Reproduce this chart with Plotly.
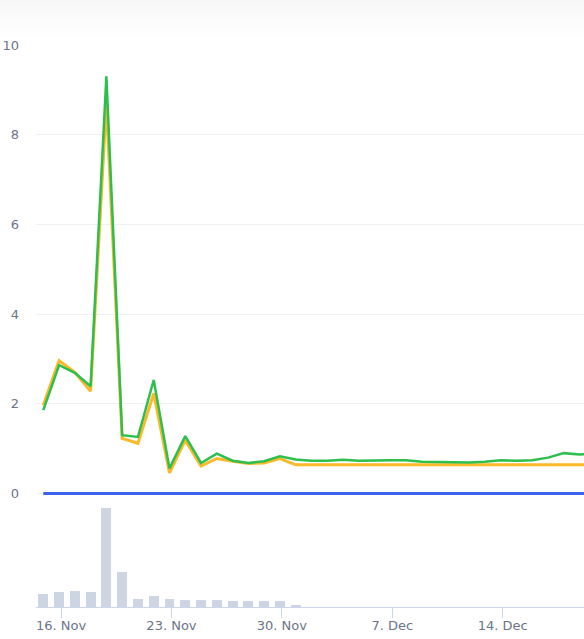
import pandas as pd
import plotly.graph_objects as go

dates = pd.date_range('2023-11-14 21:00', periods=36, freq='D')

green_vals = [1.86, 2.86, 2.69, 2.39, 9.30, 1.30, 1.26, 2.53, 0.56, 1.28,
              0.68, 0.89, 0.73, 0.68, 0.72, 0.83, 0.76, 0.73, 0.73, 0.75,
              0.73, 0.74, 0.74, 0.74, 0.71, 0.70, 0.70, 0.69, 0.71, 0.74,
              0.73, 0.74, 0.80, 0.90, 0.87, 0.88]

orange_vals = [1.97, 2.96, 2.70, 2.28, 8.72, 1.23, 1.12, 2.23, 0.46, 1.19,
               0.61, 0.78, 0.72, 0.67, 0.68, 0.78, 0.64, 0.64, 0.64, 0.64,
               0.64, 0.64, 0.64, 0.64, 0.64, 0.64, 0.64, 0.64, 0.64, 0.64,
               0.64, 0.64, 0.64, 0.64, 0.64, 0.64]

blue_vals = [0.0] * 36

volume = [134, 147, 160, 147, 994, 347, 84, 107, 84, 67,
          67, 67, 57, 57, 57, 57, 17, 0, 0, 0,
          0, 0, 0, 0, 0, 0, 0, 0, 0, 0,
          0, 0, 0, 0, 0, 0]

x_start = '2023-11-14 09:55'
x_end = '2023-12-19 03:40'

font = dict(family='DejaVu Sans', size=13, color='#6b7488')

fig = go.Figure()

# Volume bars in the lower pane
fig.add_trace(go.Bar(x=dates, y=volume, yaxis='y2', marker_color='#ced5e2',
    marker_line_width=0, width=0.63 * 86400000, hoverinfo='skip'))

# Price lines
fig.add_trace(go.Scatter(x=dates, y=blue_vals, mode='lines',
    line=dict(color='#3d63ee', width=3), hoverinfo='skip'))
fig.add_trace(go.Scatter(x=dates, y=orange_vals, mode='lines',
    line=dict(color='#fbb829', width=3), hoverinfo='skip'))
fig.add_trace(go.Scatter(x=dates, y=green_vals, mode='lines',
    line=dict(color='#2dbf4e', width=2.5), hoverinfo='skip'))

# faint grey gradient along the top of the page
for depth in [4, 8, 12, 17, 22, 28, 34, 40]:
    fig.add_shape(type='rect', xref='paper', yref='paper',
        x0=-0.08, x1=1.02, y0=1 + (45 - depth) / 562, y1=1 + 45 / 562,
        fillcolor='#000000', opacity=0.005, line_width=0, layer='below')

fig.update_layout(
    width=584, height=639, showlegend=False,
    plot_bgcolor='white', paper_bgcolor='white',
    margin=dict(l=36, r=0, t=45, b=32),
    font=font, bargap=0,
    xaxis=dict(type='date', range=[x_start, x_end], dtick=7 * 86400000,
        tick0='2023-11-16', tickformat='%-d. %b', showgrid=False,
        anchor='y2', showline=True, linecolor='#ccd6eb', linewidth=1,
        ticks='outside', ticklen=10, tickcolor='#ccd6eb', tickfont=font,
        ticklabelstandoff=-4, zeroline=False),
    yaxis=dict(domain=[0.19, 1], range=[-0.15, 10], dtick=2,
        showgrid=True, gridcolor='#eef0f4', gridwidth=1, zeroline=False,
        showline=False, ticks='', tickfont=font, ticklabelstandoff=16),
    yaxis2=dict(domain=[0, 0.178], range=[0, 1000], showgrid=False,
        showticklabels=False, zeroline=False, showline=False),
)

fig.write_html('out.html', config={'displayModeBar': False},
               post_script="document.body.style.margin='0';")
